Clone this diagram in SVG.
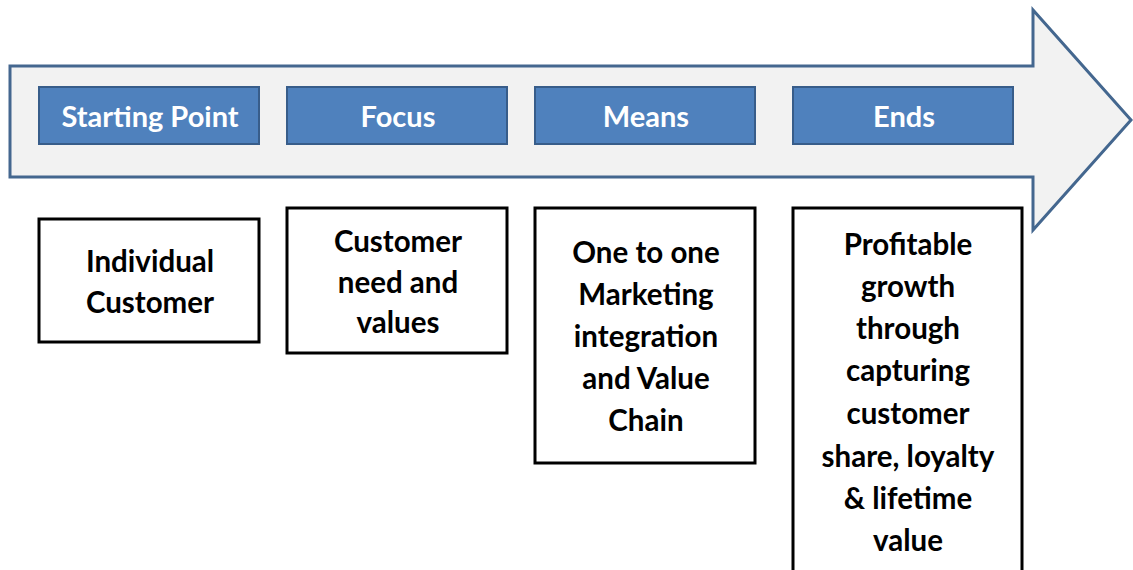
<svg xmlns="http://www.w3.org/2000/svg" width="1133" height="570" viewBox="0 0 1133 570">
<style>
.hdr{fill:#4F81BD;stroke:#385D8A;stroke-width:2}
.hdrt{font-family:Lato,"Open Sans",sans-serif;font-weight:bold;font-size:29px;fill:#fff;text-anchor:middle}
.box{fill:#fff;stroke:#000;stroke-width:3}
.boxt{font-family:Lato,"Open Sans",sans-serif;font-weight:bold;font-size:29.5px;fill:#000;text-anchor:middle}
</style>
<rect width="1133" height="570" fill="#fff"/>
<g id="arrow">
<path d="M10,66 L1033,66 L1033,10 L1131,120 L1033,230 L1033,177 L10,177 Z" fill="#F2F2F2" stroke="#44678F" stroke-width="3" stroke-linejoin="miter"/>
</g>
<g id="h1"><rect class="hdr" x="39" y="87" width="220" height="57"/><text class="hdrt" x="150" y="127">Starting Point</text></g>
<g id="h2"><rect class="hdr" x="287" y="87" width="220" height="57"/><text class="hdrt" x="398" y="127">Focus</text></g>
<g id="h3"><rect class="hdr" x="535" y="87" width="220" height="57"/><text class="hdrt" x="646" y="127">Means</text></g>
<g id="h4"><rect class="hdr" x="793" y="87" width="220" height="57"/><text class="hdrt" x="904" y="127">Ends</text></g>
<g id="b1"><rect class="box" x="39" y="219" width="220" height="123"/>
<text class="boxt"><tspan x="150" y="272">Individual</tspan><tspan x="150" y="313">Customer</tspan></text></g>
<g id="b2"><rect class="box" x="287" y="208" width="220" height="145"/>
<text class="boxt"><tspan x="398" y="252">Customer</tspan><tspan x="398" y="293">need and</tspan><tspan x="398" y="333">values</tspan></text></g>
<g id="b3"><rect class="box" x="535" y="208" width="220" height="255"/>
<text class="boxt"><tspan x="646" y="263">One to one</tspan><tspan x="646" y="305">Marketing</tspan><tspan x="646" y="347">integration</tspan><tspan x="646" y="389">and Value</tspan><tspan x="646" y="431">Chain</tspan></text></g>
<g id="b4"><rect class="box" x="793" y="208" width="229" height="375"/>
<text class="boxt"><tspan x="908" y="255">Profitable</tspan><tspan x="908" y="297">growth</tspan><tspan x="908" y="339">through</tspan><tspan x="908" y="381">capturing</tspan><tspan x="908" y="424">customer</tspan><tspan x="908" y="467">share, loyalty</tspan><tspan x="908" y="509">&amp; lifetime</tspan><tspan x="908" y="551">value</tspan></text></g>
<g id="connectors"></g>
</svg>
